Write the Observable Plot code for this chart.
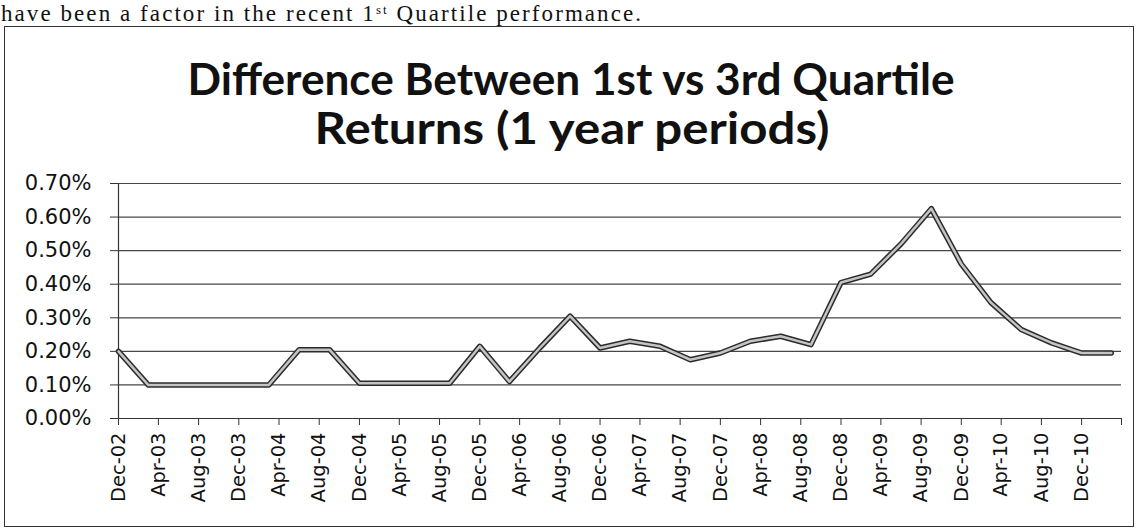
<!DOCTYPE html>
<html>
<head>
<meta charset="utf-8">
<script src="https://cdn.jsdelivr.net/npm/d3@7"></script>
<script src="https://cdn.jsdelivr.net/npm/@observablehq/plot@0.6"></script>
<style>
  html, body { margin: 0; padding: 0; background: #fff; }
  #wrap { position: relative; width: 1140px; height: 529px; overflow: hidden; background: #fff; }
  #header { position: absolute; left: 0; top: 0; }
  #chart { position: absolute; left: 0; top: 160px; }
  #box { position: absolute; left: 4px; top: 26px; width: 1130px; height: 501px; border: 1.5px solid #333; box-sizing: border-box; pointer-events: none; }
</style>
</head>
<body>
<div id="wrap">
  <div id="box"></div>
  <svg id="header" width="1140" height="160" xmlns="http://www.w3.org/2000/svg">
    <text x="1" y="21" font-family="Liberation Serif" font-size="23" fill="#111" textLength="640" lengthAdjust="spacing">have been a factor in the recent 1<tspan font-size="13" dy="-7">st</tspan><tspan dy="7"> Quartile performance.</tspan></text>
    <text id="t1" x="571" y="95" text-anchor="middle" font-family="Lato" font-weight="bold" font-size="43" fill="#111" textLength="767" lengthAdjust="spacingAndGlyphs">Difference Between 1st vs 3rd Quartile</text>
    <text id="t2" x="572" y="144" text-anchor="middle" font-family="Lato" font-weight="bold" font-size="43" fill="#111" textLength="515" lengthAdjust="spacingAndGlyphs">Returns (1 year periods)</text>
  </svg>
  <div id="chart"></div>
</div>
<script>
// Quarter-end observation months
const periods = [
  "Dec-02","Mar-03","Jun-03","Sep-03","Dec-03","Mar-04","Jun-04","Sep-04",
  "Dec-04","Mar-05","Jun-05","Sep-05","Dec-05","Mar-06","Jun-06","Sep-06",
  "Dec-06","Mar-07","Jun-07","Sep-07","Dec-07","Mar-08","Jun-08","Sep-08",
  "Dec-08","Mar-09","Jun-09","Sep-09","Dec-09","Mar-10","Jun-10","Sep-10",
  "Dec-10","Mar-11"
];
// Difference between 1st and 3rd quartile returns, in percent
const differences = [
  0.20, 0.10, 0.10, 0.10, 0.10, 0.10, 0.205, 0.205,
  0.105, 0.105, 0.105, 0.105, 0.215, 0.11, 0.21, 0.305,
  0.21, 0.23, 0.215, 0.175, 0.195, 0.23, 0.245, 0.22,
  0.405, 0.43, 0.52, 0.625, 0.46, 0.345, 0.265, 0.225,
  0.195, 0.195
];
// Axis tick labels
const xTickLabels = [
  "Dec-02","Apr-03","Aug-03","Dec-03","Apr-04","Aug-04","Dec-04","Apr-05","Aug-05",
  "Dec-05","Apr-06","Aug-06","Dec-06","Apr-07","Aug-07","Dec-07","Apr-08","Aug-08",
  "Dec-08","Apr-09","Aug-09","Dec-09","Apr-10","Aug-10","Dec-10"
];
const xAxisEnd = "Apr-11";
const yTicks = [0, 0.1, 0.2, 0.3, 0.4, 0.5, 0.6, 0.7];

const parse = d3.utcParse("%b-%y");
const fmt = d3.utcFormat("%b-%y");
const data = periods.map((p, i) => ({date: parse(p), value: differences[i]}));
const tickDates = xTickLabels.map(parse);
const endDate = parse(xAxisEnd);
const labelSet = new Set(xTickLabels);

const plot = Plot.plot({
  width: 1140,
  height: 369,
  marginTop: 23,
  marginBottom: 111,
  marginLeft: 118,
  marginRight: 19,
  style: {fontFamily: "DejaVu Sans", fontSize: "20px", color: "#111", background: "transparent"},
  x: {type: "utc", domain: [tickDates[0], endDate]},
  y: {domain: [0, 0.7]},
  marks: [
    Plot.gridY(yTicks, {stroke: "#333", strokeOpacity: 0.9, strokeWidth: 1.2}),
    Plot.axisY({ticks: yTicks, tickFormat: d => d.toFixed(2) + "%", tickSize: 8, tickPadding: 19, stroke: "#333", label: null, fontSize: 21}),
    Plot.axisX({ticks: [...tickDates, endDate], tickFormat: d => labelSet.has(fmt(d)) ? fmt(d) : "", tickRotate: -90, tickSize: 7, tickPadding: 7, stroke: "#333", label: null, fontSize: 19.5}),
    Plot.ruleX([tickDates[0]], {y1: 0, y2: 0.7, stroke: "#333", strokeWidth: 1.2}),
    Plot.ruleY([0], {stroke: "#333", strokeWidth: 1.2}),
    Plot.line(data, {x: "date", y: "value", stroke: "#2b2b2b", strokeWidth: 5.5}),
    Plot.line(data, {x: "date", y: "value", stroke: "#c4c4c4", strokeWidth: 2.5})
  ]
});
document.getElementById("chart").appendChild(plot);
</script>
</body>
</html>
